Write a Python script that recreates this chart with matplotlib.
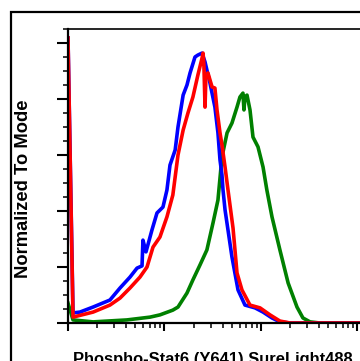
import matplotlib
matplotlib.use("Agg")
import matplotlib.pyplot as plt
from matplotlib.patches import Rectangle
from matplotlib.ticker import MultipleLocator, LogLocator, NullFormatter

# Fluorescence intensity (log axis) and % of max ("Normalized To Mode")
blue_x = [1.00, 1.127, 1.33, 1.82, 2.72, 3.46, 4.39, 5.19, 5.85, 5.98, 6.43, 7.41, 8.36, 9.64,
          10.6, 11.4, 12.9, 13.8, 15.6, 17.1, 18.4, 20.7, 22.2, 24.5, 26.3, 29.6, 33.3, 35.8,
          37.6, 39.4, 40.4, 42.4, 50.0, 57.8, 68.2, 86.7, 105, 130, 157, 200, 1100]
blue_y = [101.8, 3.6, 3.9, 5.7, 8.2, 12.5, 16.4, 19.6, 20.4, 29.6, 25.4, 33.2, 39.3, 41.4,
          47.5, 56.4, 61.8, 70.0, 81.4, 85.0, 89.3, 95.0, 95.7, 96.4, 93.2, 85.7, 77.1, 67.9,
          58.2, 52.9, 47.5, 40.4, 23.6, 11.8, 6.4, 5.4, 3.9, 1.8, 0.4, 0, 0]

red_x = [1.00, 1.127, 1.82, 2.72, 3.46, 4.39, 5.57, 6.59, 7.60, 8.97, 10.6, 12.2, 13.8, 15.6,
         17.5, 19.7, 22.2, 24.5, 25.1, 25.6, 26.3, 26.9, 28.2, 31.1, 33.3, 35.0, 37.6, 39.4,
         42.4, 45.5, 51.3, 56.4, 63.5, 76.9, 97.7, 124, 157, 200, 1100]
red_y = [101.8, 2.1, 3.9, 6.4, 8.9, 12.5, 16.4, 20.0, 27.1, 30.7, 37.9, 45.7, 60.0, 68.9,
         75.0, 80.7, 88.6, 94.6, 96.4, 92.1, 77.1, 88.6, 89.3, 84.3, 83.9, 76.1, 67.9, 63.6,
         55.7, 47.5, 33.9, 17.9, 11.8, 6.4, 5.4, 2.9, 0.7, 0, 0]

green_x = [1.00, 1.127, 1.82, 4.08, 7.08, 8.97, 12.2, 13.8, 17.1, 19.7, 23.3, 27.5, 31.8, 35.8,
           39.4, 44.5, 50.0, 56.4, 60.5, 65.0, 66.6, 68.2, 71.6, 76.9, 82.6, 93.1, 105, 115,
           130, 157, 191, 236, 272, 322, 408, 1100]
green_y = [7.1, 1.1, 0.4, 1.1, 2.1, 2.9, 4.6, 5.7, 10.7, 15.4, 20.7, 26.1, 35.7, 43.9,
           59.3, 67.9, 71.4, 77.1, 80.7, 82.1, 76.1, 80.7, 81.4, 76.1, 66.4, 62.9, 55.7, 47.5,
           37.9, 26.1, 14.3, 5.7, 1.8, 0.4, 0, 0]

x_label = "Phospho-Stat6 (Y641) SureLight488"
y_label = "Normalized To Mode"

W, H = 360, 361
fig = plt.figure(figsize=(W / 100, H / 100), dpi=100)

# outer frame (partially cropped in the reference)
fig.patches.append(Rectangle((11 / W, -0.2), 1.5, (H - 12) / H + 0.2, transform=fig.transFigure,
                             fill=False, edgecolor="black", linewidth=1.6, zorder=0))

ax = fig.add_axes([68 / W, 38 / H, 96.5 * 3.5 / W, 294 / H])
ax.set_xscale("log")
ax.set_xlim(1, 10 ** 3.5)
ax.set_ylim(0, 105)

ax.plot(green_x, green_y, color="#008000", lw=2.6, solid_joinstyle="round")
ax.plot(blue_x, blue_y, color="#0000ff", lw=2.6, solid_joinstyle="round")
ax.plot(red_x, red_y, color="#ff0000", lw=2.6, solid_joinstyle="round")

for s in ax.spines.values():
    s.set_linewidth(1.2)
    s.set_color("black")
ax.spines["left"].set_linewidth(1.6)
ax.spines["bottom"].set_linewidth(1.6)

ax.yaxis.set_major_locator(MultipleLocator(20))
ax.yaxis.set_minor_locator(MultipleLocator(5))
ax.xaxis.set_major_locator(LogLocator(base=10, numticks=10))
ax.xaxis.set_minor_locator(LogLocator(base=10, subs=range(2, 10), numticks=20))
ax.xaxis.set_major_formatter(NullFormatter())
ax.xaxis.set_minor_formatter(NullFormatter())
ax.yaxis.set_major_formatter(NullFormatter())
ax.tick_params(axis="y", which="major", direction="out", length=8, width=1.5)
ax.tick_params(axis="y", which="minor", direction="out", length=3.8, width=1.1)
ax.tick_params(axis="x", which="major", direction="out", length=6, width=1.5)
ax.tick_params(axis="x", which="minor", direction="out", length=3.8, width=1.1)

fig.text(27.5 / W, (H - 189) / H, y_label, rotation=90, rotation_mode="anchor",
         ha="center", va="baseline", fontsize=13.2, fontweight="bold",
         family="Liberation Sans")
fig.text(212.5 / W, -2.8 / H, x_label, ha="center", va="baseline",
         fontsize=11.9, fontweight="bold", family="Liberation Sans")

fig.savefig("out.png", dpi=100)
